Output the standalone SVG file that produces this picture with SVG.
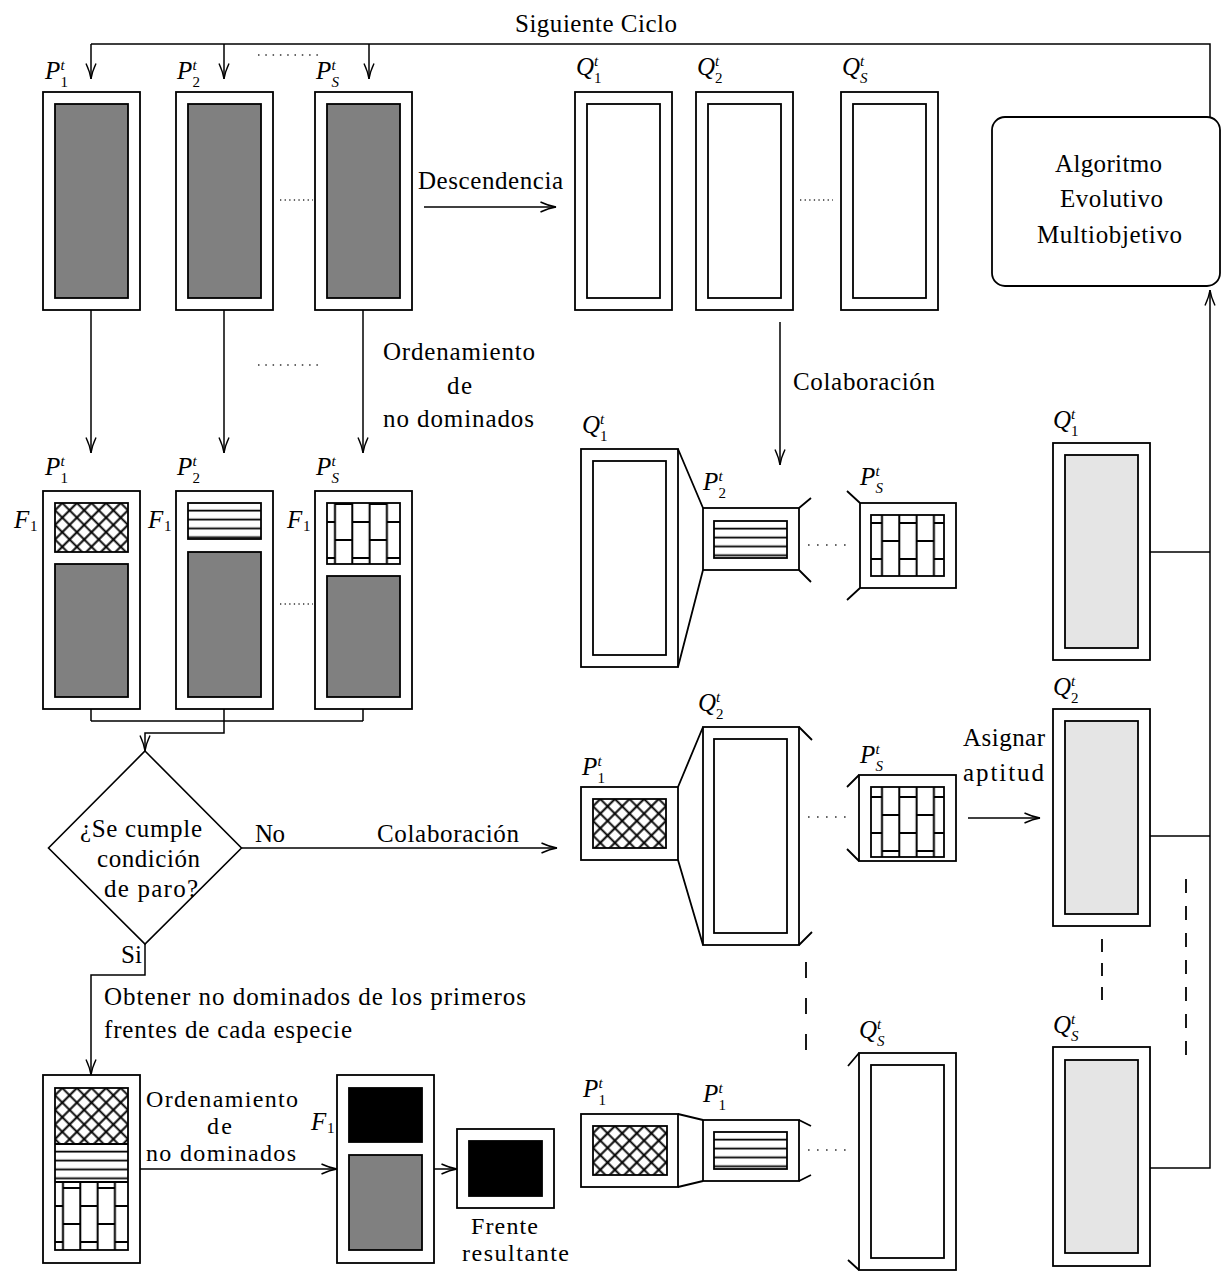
<svg xmlns="http://www.w3.org/2000/svg" width="1221" height="1271" viewBox="0 0 1221 1271">
<style>
.ob{fill:#fff;stroke:#000;stroke-width:1.8}
.ib{stroke:#000;stroke-width:1.8}
.g{fill:#808080}
.lg{fill:#e5e5e5}
.w{fill:#fff}
.k{fill:#000}
.cn{fill:none;stroke:#000;stroke-width:1.5}
.tk{fill:none;stroke:#000;stroke-width:1.8}
.t{font-family:"Liberation Serif","Times New Roman",serif;font-size:25px;fill:#000}
.t2{font-size:24px}
.i{font-style:italic}
.s{font-size:15px}
.dot{fill:none;stroke:#333;stroke-width:1.5}
.dash{fill:none;stroke:#000;stroke-width:1.8}
</style>
<defs>
<marker id="ah" markerUnits="userSpaceOnUse" viewBox="0 0 17 12" refX="16" refY="6" markerWidth="17" markerHeight="12" orient="auto" overflow="visible">
<path d="M0.5,1 Q9,5 16,6 Q9,7 0.5,11" fill="none" stroke="#000" stroke-width="1.4"/>
</marker>
<pattern id="xh" patternUnits="userSpaceOnUse" width="10.32" height="10.32" patternTransform="rotate(45)">
<rect width="10.32" height="10.32" fill="#fff"/>
<path d="M5.16,0 V10.32 M0,5.16 H10.32" stroke="#000" stroke-width="2" fill="none"/>
</pattern>
<pattern id="hl" patternUnits="userSpaceOnUse" width="10" height="8.9">
<rect width="10" height="8.9" fill="#fff"/>
<path d="M0,7.6 H10" stroke="#000" stroke-width="1.8"/>
</pattern>
<pattern id="br" patternUnits="userSpaceOnUse" width="34.6" height="36">
<rect width="34.6" height="36" fill="#fff"/>
<path d="M8.65,0 V36 M25.95,0 V36 M8.65,9 H25.95 M0,27 H8.65 M25.95,27 H34.6" stroke="#000" stroke-width="2" fill="none"/>
</pattern>
</defs>

<!-- Top row: parent populations -->
<g id="p1-top">
<rect class="ob" x="43" y="92" width="97" height="218"/>
<rect class="ib g" x="55" y="104" width="73" height="194"/>
<text class="t"><tspan class="i" x="45" y="79">P</tspan><tspan class="i s" x="60.5" y="70">t</tspan><tspan class="s" x="60.5" y="87">1</tspan></text>
</g>
<g id="p2-top">
<rect class="ob" x="176" y="92" width="97" height="218"/>
<rect class="ib g" x="188" y="104" width="73" height="194"/>
<text class="t"><tspan class="i" x="177" y="79">P</tspan><tspan class="i s" x="192.5" y="70">t</tspan><tspan class="s" x="192.5" y="87">2</tspan></text>
</g>
<g id="ps-top">
<rect class="ob" x="315" y="92" width="97" height="218"/>
<rect class="ib g" x="327" y="104" width="73" height="194"/>
<text class="t"><tspan class="i" x="316" y="79">P</tspan><tspan class="i s" x="331.5" y="70">t</tspan><tspan class="i s" x="331.5" y="87">S</tspan></text>
</g>

<!-- Top row: offspring -->
<g id="q1-top">
<rect class="ob" x="575" y="92" width="97" height="218"/>
<rect class="ib w" x="587" y="104" width="73" height="194"/>
<text class="t"><tspan class="i" x="576" y="75">Q</tspan><tspan class="i s" x="594" y="66">t</tspan><tspan class="s" x="594" y="83">1</tspan></text>
</g>
<g id="q2-top">
<rect class="ob" x="696" y="92" width="97" height="218"/>
<rect class="ib w" x="708" y="104" width="73" height="194"/>
<text class="t"><tspan class="i" x="697" y="75">Q</tspan><tspan class="i s" x="715" y="66">t</tspan><tspan class="s" x="715" y="83">2</tspan></text>
</g>
<g id="qs-top">
<rect class="ob" x="841" y="92" width="97" height="218"/>
<rect class="ib w" x="853" y="104" width="73" height="194"/>
<text class="t"><tspan class="i" x="842" y="75">Q</tspan><tspan class="i s" x="860" y="66">t</tspan><tspan class="i s" x="860" y="83">S</tspan></text>
</g>

<g id="algoritmo">
<rect class="ob" x="992" y="117" width="228" height="169" rx="13"/>
<text class="t" x="1055" y="172" textLength="107">Algoritmo</text>
<text class="t" x="1060" y="207" textLength="103">Evolutivo</text>
<text class="t" x="1037" y="243" textLength="145">Multiobjetivo</text>
</g>

<!-- Row 2: sorted populations -->
<g id="p1-sorted">
<rect class="ob" x="43" y="491" width="97" height="218"/>
<g transform="translate(55,503)"><rect class="ib" width="73" height="49" fill="url(#xh)"/></g>
<rect class="ib g" x="55" y="564" width="73" height="133"/>
<text class="t"><tspan class="i" x="45" y="475">P</tspan><tspan class="i s" x="60.5" y="466">t</tspan><tspan class="s" x="60.5" y="483">1</tspan></text>
<text class="t"><tspan class="i" x="14" y="528">F</tspan><tspan class="s" x="30" y="531">1</tspan></text>
</g>
<g id="p2-sorted">
<rect class="ob" x="176" y="491" width="97" height="218"/>
<g transform="translate(188,503)"><rect class="ib" width="73" height="36" fill="url(#hl)"/></g>
<rect class="ib g" x="188" y="552" width="73" height="145"/>
<text class="t"><tspan class="i" x="177" y="475">P</tspan><tspan class="i s" x="192.5" y="466">t</tspan><tspan class="s" x="192.5" y="483">2</tspan></text>
<text class="t"><tspan class="i" x="148" y="528">F</tspan><tspan class="s" x="164" y="531">1</tspan></text>
</g>
<g id="ps-sorted">
<rect class="ob" x="315" y="491" width="97" height="218"/>
<g transform="translate(326.35,495)"><rect class="ib" x="0.65" y="8" width="73" height="61" fill="url(#br)"/></g>
<rect class="ib g" x="327" y="576" width="73" height="121"/>
<text class="t"><tspan class="i" x="316" y="475">P</tspan><tspan class="i s" x="331.5" y="466">t</tspan><tspan class="i s" x="331.5" y="483">S</tspan></text>
<text class="t"><tspan class="i" x="287" y="528">F</tspan><tspan class="s" x="303" y="531">1</tspan></text>
</g>

<g id="decision">
<polygon class="tk" points="145,751 241.5,848 145,944 48.5,848" style="stroke-width:1.6"/>
<text class="t" x="80" y="837" textLength="122">¿Se cumple</text>
<text class="t" x="97" y="867" textLength="103">condición</text>
<text class="t" x="104" y="897" textLength="94">de paro?</text>
</g>

<g id="merged-fronts">
<rect class="ob" x="43" y="1075" width="97" height="188"/>
<g transform="translate(55,1088)"><rect width="73" height="56" fill="url(#xh)"/></g>
<g transform="translate(55,1144)"><rect width="73" height="38" fill="url(#hl)"/></g>
<g transform="translate(54.35,1179)"><rect x="0.65" y="3" width="73" height="68" fill="url(#br)"/></g>
<path class="tk" d="M55,1144 H128 M55,1182 H128"/>
<rect class="ib" x="55" y="1088" width="73" height="162" fill="none"/>
</g>

<g id="final-sort">
<rect class="ob" x="337" y="1075" width="97" height="188"/>
<rect class="ib k" x="349" y="1088" width="73" height="54"/>
<rect class="ib g" x="349" y="1155" width="73" height="95"/>
<text class="t"><tspan class="i" x="311" y="1130">F</tspan><tspan class="s" x="327" y="1133">1</tspan></text>
</g>

<g id="frente-resultante">
<rect class="ob" x="457" y="1129" width="97" height="79"/>
<rect class="ib k" x="469" y="1141" width="73" height="55"/>
<text class="t t2" x="471" y="1234" textLength="67">Frente</text>
<text class="t t2" x="462" y="1261" textLength="107">resultante</text>
</g>

<!-- Collaboration for Q1 -->
<g id="collab-q1">
<rect class="ob" x="581" y="449" width="97" height="218"/>
<rect class="ib w" x="593" y="461" width="73" height="194"/>
<path class="tk" d="M678,449 L703,508 M678,667 L703,570"/>
<rect class="ob" x="703" y="508" width="96" height="62"/>
<g transform="translate(714,521)"><rect class="ib" width="73" height="37" fill="url(#hl)"/></g>
<path class="tk" d="M799,508 L811,498 M799,570 L811,582"/>
<path class="dot" d="M808,545 H853" stroke-dasharray="1.6 7.4"/>
<rect class="ob" x="860" y="503" width="96" height="85"/>
<g transform="translate(873.35,496)"><rect class="ib" x="-2.35" y="19" width="73" height="61" fill="url(#br)"/></g>
<path class="tk" d="M860,503 L847,491 M860,588 L847,600"/>
<text class="t"><tspan class="i" x="582" y="433">Q</tspan><tspan class="i s" x="600" y="424">t</tspan><tspan class="s" x="600" y="441">1</tspan></text>
<text class="t"><tspan class="i" x="703" y="490">P</tspan><tspan class="i s" x="718.5" y="481">t</tspan><tspan class="s" x="718.5" y="498">2</tspan></text>
<text class="t"><tspan class="i" x="860" y="485">P</tspan><tspan class="i s" x="875.5" y="476">t</tspan><tspan class="i s" x="875.5" y="493">S</tspan></text>
</g>

<!-- Collaboration for Q2 -->
<g id="collab-q2">
<rect class="ob" x="581" y="787" width="97" height="73"/>
<g transform="translate(593,799)"><rect class="ib" width="73" height="49" fill="url(#xh)"/></g>
<path class="tk" d="M678,787 L703,727 M678,860 L703,945"/>
<rect class="ob" x="703" y="727" width="96" height="218"/>
<rect class="ib w" x="714" y="739" width="73" height="194"/>
<path class="tk" d="M799,727 L812,740 M799,945 L812,932"/>
<path class="dot" d="M808,817 H853" stroke-dasharray="1.6 7.4"/>
<rect class="ob" x="859" y="775" width="97" height="86"/>
<g transform="translate(873.35,770)"><rect class="ib" x="-2.35" y="17" width="73" height="70" fill="url(#br)"/></g>
<path class="tk" d="M859,775 L847,787 M859,861 L847,849"/>
<text class="t"><tspan class="i" x="582" y="775">P</tspan><tspan class="i s" x="597.5" y="766">t</tspan><tspan class="s" x="597.5" y="783">1</tspan></text>
<text class="t"><tspan class="i" x="698" y="711">Q</tspan><tspan class="i s" x="716" y="702">t</tspan><tspan class="s" x="716" y="719">2</tspan></text>
<text class="t"><tspan class="i" x="860" y="763">P</tspan><tspan class="i s" x="875.5" y="754">t</tspan><tspan class="i s" x="875.5" y="771">S</tspan></text>
</g>

<!-- Collaboration for QS -->
<g id="collab-qs">
<rect class="ob" x="581" y="1114" width="97" height="73"/>
<g transform="translate(593,1126)"><rect class="ib" width="74" height="49" fill="url(#xh)"/></g>
<path class="tk" d="M678,1114 L703,1120 M678,1187 L703,1181"/>
<rect class="ob" x="703" y="1120" width="96" height="61"/>
<g transform="translate(714,1132)"><rect class="ib" width="73" height="37" fill="url(#hl)"/></g>
<path class="tk" d="M799,1120 L811,1126 M799,1181 L811,1175"/>
<path class="dot" d="M808,1150 H853" stroke-dasharray="1.6 7.4"/>
<rect class="ob" x="859" y="1053" width="97" height="217"/>
<rect class="ib w" x="871" y="1065" width="73" height="193"/>
<path class="tk" d="M859,1053 L848,1066 M859,1270 L848,1260"/>
<text class="t"><tspan class="i" x="583" y="1097">P</tspan><tspan class="i s" x="598.5" y="1088">t</tspan><tspan class="s" x="598.5" y="1105">1</tspan></text>
<text class="t"><tspan class="i" x="703" y="1102">P</tspan><tspan class="i s" x="718.5" y="1093">t</tspan><tspan class="s" x="718.5" y="1110">1</tspan></text>
<text class="t"><tspan class="i" x="859" y="1038">Q</tspan><tspan class="i s" x="877" y="1029">t</tspan><tspan class="i s" x="877" y="1046">S</tspan></text>
</g>

<!-- Right column: offspring with fitness -->
<g id="q1-fit">
<rect class="ob" x="1053" y="443" width="97" height="217"/>
<rect class="ib lg" x="1065" y="455" width="73" height="193"/>
<text class="t"><tspan class="i" x="1053" y="428">Q</tspan><tspan class="i s" x="1071" y="419">t</tspan><tspan class="s" x="1071" y="436">1</tspan></text>
</g>
<g id="q2-fit">
<rect class="ob" x="1053" y="709" width="97" height="217"/>
<rect class="ib lg" x="1065" y="721" width="73" height="193"/>
<text class="t"><tspan class="i" x="1053" y="695">Q</tspan><tspan class="i s" x="1071" y="686">t</tspan><tspan class="s" x="1071" y="703">2</tspan></text>
</g>
<g id="qs-fit">
<rect class="ob" x="1053" y="1047" width="97" height="219"/>
<rect class="ib lg" x="1065" y="1060" width="73" height="193"/>
<text class="t"><tspan class="i" x="1053" y="1033">Q</tspan><tspan class="i s" x="1071" y="1024">t</tspan><tspan class="i s" x="1071" y="1041">S</tspan></text>
</g>

<!-- Connectors -->
<g id="connectors">
<path class="cn" d="M91,44 H1210 V117"/>
<path class="cn" marker-end="url(#ah)" d="M91,44 V79"/>
<path class="cn" marker-end="url(#ah)" d="M224,44 V79"/>
<path class="cn" marker-end="url(#ah)" d="M369,44 V79"/>
<text class="t" x="515" y="32" textLength="162">Siguiente Ciclo</text>
<path class="dot" d="M258,55 H323" stroke-dasharray="1.5 5.8"/>
<path class="dot" d="M280,200 H313" stroke-dasharray="1.3 3.3"/>
<path class="dot" d="M800,200 H833" stroke-dasharray="1.3 3.3"/>
<path class="dot" d="M280,604 H313" stroke-dasharray="1.3 3.3"/>
<path class="dot" d="M258,365 H323" stroke-dasharray="1.5 5.8"/>

<path class="cn" marker-end="url(#ah)" d="M424,207 H556"/>
<text class="t" x="418" y="189" textLength="145">Descendencia</text>

<path class="cn" marker-end="url(#ah)" d="M91,310 V453"/>
<path class="cn" marker-end="url(#ah)" d="M224,310 V453"/>
<path class="cn" marker-end="url(#ah)" d="M363,310 V453"/>
<text class="t" x="383" y="360" textLength="152">Ordenamiento</text>
<text class="t" x="447" y="394" textLength="25">de</text>
<text class="t" x="383" y="427" textLength="151">no dominados</text>

<path class="cn" marker-end="url(#ah)" d="M780,322 V465"/>
<text class="t" x="793" y="390" textLength="142">Colaboración</text>

<path class="cn" d="M91,709 V721 M224,709 V721 M363,709 V721 M91,721 H363"/>
<path class="cn" marker-end="url(#ah)" d="M224,721 V733 H145 V751"/>

<path class="cn" marker-end="url(#ah)" d="M241.5,848 H557"/>
<text class="t" x="255" y="842" textLength="30">No</text>
<text class="t" x="377" y="842" textLength="142">Colaboración</text>

<path class="cn" marker-end="url(#ah)" d="M145,944 V975 H91 V1075"/>
<text class="t" x="121" y="963" textLength="21">Si</text>
<text class="t" x="104" y="1005" textLength="422">Obtener no dominados de los primeros</text>
<text class="t" x="104" y="1038" textLength="248">frentes de cada especie</text>

<path class="cn" marker-end="url(#ah)" d="M140,1169 H337"/>
<text class="t t2" x="146" y="1107" textLength="152">Ordenamiento</text>
<text class="t t2" x="207" y="1134" textLength="25">de</text>
<text class="t t2" x="146" y="1161" textLength="150">no dominados</text>
<path class="cn" marker-end="url(#ah)" d="M434,1169 H457"/>

<path class="dash" d="M806,962 V1050" stroke-dasharray="16 20"/>
<path class="dash" d="M1102,939 V1000" stroke-dasharray="13 11"/>
<path class="dash" d="M1186,879 V1059" stroke-dasharray="14 13"/>

<path class="cn" marker-end="url(#ah)" d="M968,818 H1040"/>
<text class="t" x="963" y="746" textLength="82">Asignar</text>
<text class="t" x="963" y="781" textLength="81">aptitud</text>

<path class="cn" d="M1150,552 H1210 M1150,836 H1210"/>
<path class="cn" marker-end="url(#ah)" d="M1150,1168 H1210 V290"/>
</g>
</svg>
